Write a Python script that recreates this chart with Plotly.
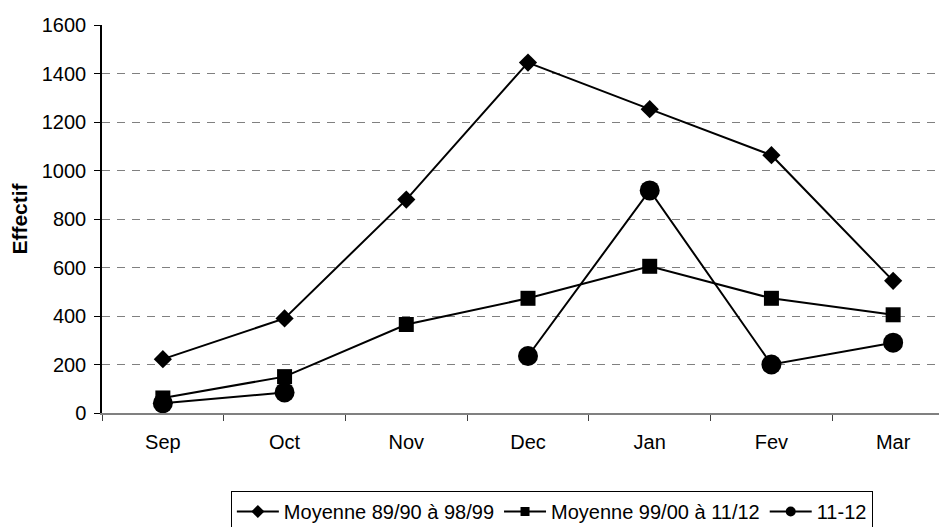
import plotly.graph_objects as go

months = ["Sep", "Oct", "Nov", "Dec", "Jan", "Fev", "Mar"]
moy_89_99 = [222, 390, 880, 1445, 1253, 1063, 545]
moy_99_12 = [62, 150, 365, 473, 605, 473, 405]
saison_11_12 = [40, 85, None, 235, 918, 200, 290]

series = [
    ("Moyenne 89/90 à 98/99", moy_89_99, "diamond", 14, 10),
    ("Moyenne 99/00 à 11/12", moy_99_12, "square", 15, 9),
    ("11-12", saison_11_12, "circle", 20, 10),
]

font = dict(family="Liberation Sans, Arial, sans-serif", size=20, color="black")

fig = go.Figure()
for name, vals, sym, size, leg_size in series:
    fig.add_trace(go.Scatter(x=months, y=vals, name=name, mode="lines+markers",
                             line=dict(color="black", width=2), connectgaps=False,
                             marker=dict(symbol=sym, size=size, color="black"),
                             showlegend=False))
    # legend entry with smaller marker, like the original
    fig.add_trace(go.Scatter(x=[months[0]], y=[None], name=name, mode="lines+markers",
                             line=dict(color="black", width=2),
                             marker=dict(symbol=sym, size=leg_size, color="black")))

# page body has an 8px margin, so margins are shifted to compensate
fig.update_layout(
    width=947, height=527,
    paper_bgcolor="white", plot_bgcolor="white",
    font=font,
    margin=dict(l=94, r=1, t=17, b=122, autoexpand=False),
    showlegend=True,
    legend=dict(orientation="h", x=0.528, xanchor="center", y=-0.201, yanchor="top",
                bordercolor="black", borderwidth=1, font=font,
                itemwidth=42, tracegroupgap=0),
)
fig.update_xaxes(type="category", range=[-0.5, 6.5], showline=True, linecolor="#808080",
                 linewidth=2, ticks="outside", tickson="boundaries", ticklen=6,
                 tickcolor="#404040", showgrid=False, zeroline=False, automargin=False,
                 ticklabelstandoff=10)
fig.update_yaxes(range=[0, 1600], dtick=200, showline=True, linecolor="black", linewidth=1.5,
                 ticks="outside", ticklen=6, tickcolor="black", showgrid=True,
                 gridcolor="#808080", griddash="8px,7px", gridwidth=1, zeroline=False,
                 automargin=False, ticklabelstandoff=4,
                 title=dict(text="<b>Effectif</b>", standoff=13, font=dict(size=21)))

fig.write_html("out.html")
